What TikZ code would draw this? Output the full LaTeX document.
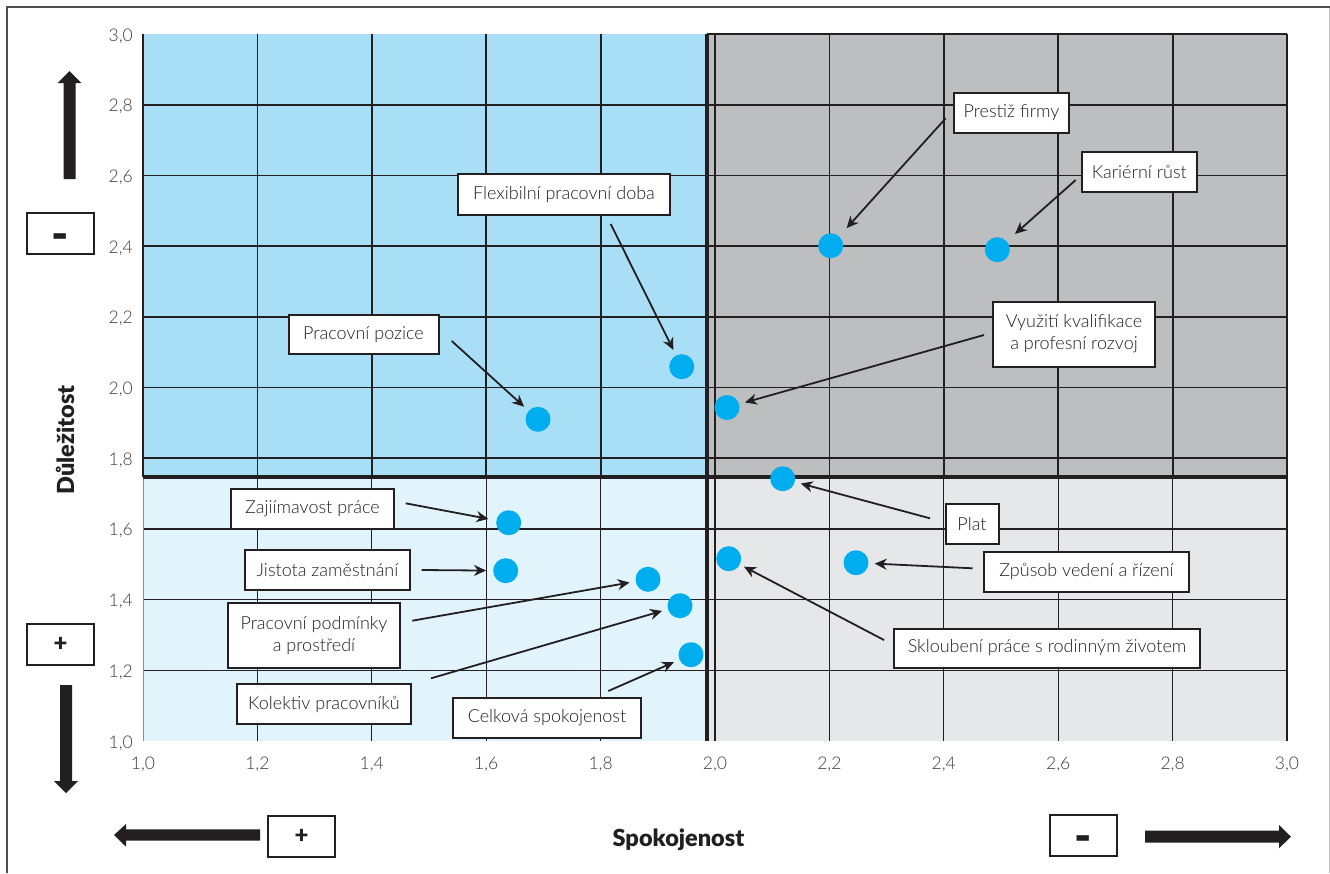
\documentclass[tikz,border=0pt]{standalone}
\usepackage{fontspec}
\setmainfont{Lato Light}[BoldFont={Lato Black}]
\usetikzlibrary{arrows.meta}
\definecolor{qblue}{HTML}{A8DFF7}
\definecolor{qgrey}{HTML}{BCBEC0}
\definecolor{qlblue}{HTML}{E1F3FB}
\definecolor{qlgrey}{HTML}{E6E7E8}
\definecolor{dotc}{HTML}{00AEEF}
\definecolor{ink}{HTML}{231F20}
\definecolor{tickc}{HTML}{3C3C3C}
\definecolor{framec}{HTML}{4D4D4D}
\tikzset{
  lbl/.style={draw=ink, line width=2pt, fill=white, inner sep=0pt, align=center,
    font=\fontsize{18}{22}\selectfont, text=ink},
  dot/.style={circle, fill=dotc, minimum size=25pt, inner sep=0pt},
  ptr/.style={draw=ink, line width=1.8pt, -{Stealth[length=12pt,width=11pt]}, shorten >=6pt},
  sgn/.style={draw=ink, line width=2pt, fill=white, minimum width=67pt, minimum height=41pt,
    inner sep=0pt, font=\bfseries\fontsize{24}{24}\selectfont, text=ink},
  tickl/.style={font=\fontsize{17.5}{17.5}\selectfont, text=tickc, inner sep=0pt},
  gridu/.style={draw=ink, line width=1.8pt},
  gridl/.style={draw=ink, line width=1.3pt},
  divl/.style={draw=ink, line width=3.5pt},
  axtitle/.style={font=\bfseries\fontsize{23.5}{23.5}\selectfont, text=ink, inner sep=0pt}
}
\newcommand{\minussign}{\raisebox{-19.4pt}[0pt][0pt]{\scalebox{1.25}[2.2]{–}}}
\begin{document}
\begin{tikzpicture}[x=1pt,y=-1pt]
\useasboundingbox (0,0) rectangle (1330,873);
\fill[white] (0,0) rectangle (1330,873);
% frame
\draw[framec, line width=1.5pt] (7,873) -- (7,7) -- (1330,7);
\draw[black!25, line width=1pt] (1329,8) -- (1329,873);
% quadrants
\fill[qblue] (143,34) rectangle (707,477);
\fill[qgrey] (707,34) rectangle (1287,477);
\fill[qlblue] (143,477) rectangle (707,741);
\fill[qlgrey] (707,477) rectangle (1287,741);
% grid
\foreach \i in {1,...,9} {
  \draw[gridu] ({143+114.4*\i},34) -- ({143+114.4*\i},477);
  \draw[gridl] ({143+114.4*\i},477) -- ({143+114.4*\i},741);
}
\foreach \j in {4,...,9} \draw[gridu] (143,{741-70.7*\j}) -- (1287,{741-70.7*\j});
\foreach \j in {1,2,3} \draw[gridl] (143,{741-70.7*\j}) -- (1287,{741-70.7*\j});
\draw[gridu] (707,34) -- (1287,34);
\draw[gridu] (1287,34) -- (1287,741);
\draw[gridu] (143,34) -- (143,477);
\draw[black!45, line width=1pt] (143,477) -- (143,741);
% dividers
\draw[divl] (707,34) -- (707,741);
\draw[divl] (143,477) -- (1287,477);
% tick labels
\foreach \j/\a/\b in {0/1/0,1/1/2,2/1/4,3/1/6,4/1/8,5/2/0,6/2/2,7/2/4,8/2/6,9/2/8,10/3/0} {
  \node[tickl, anchor=base east] (yt\j) at (133,{741-70.7*\j+7}) {\a,\b};
  \node[tickl, anchor=base] (xt\j) at ({143+114.4*\j},769) {\a,\b};
}
% axis titles
\node[axtitle, anchor=base] (xtitle) at (678.5,846) {Spokojenost};
\node[axtitle, rotate=90] (ytitle) at (65,440) {Důležitost};
% side arrows and signs
\fill[ink] (63.5,179) -- (63.5,83) -- (57.5,83) -- (69.5,71) -- (81.5,83) -- (75.5,83) -- (75.5,179) -- cycle;
\fill[ink] (60,685) -- (72,685) -- (72,781) -- (78,781) -- (66,793) -- (54,781) -- (60,781) -- cycle;
\fill[ink] (260,829.3) -- (126,829.3) -- (126,824) -- (114,835) -- (126,846.7) -- (126,840.7) -- (260,840.7) -- cycle;
\fill[ink] (1145,830.7) -- (1279,830.7) -- (1279,825) -- (1291,836.7) -- (1279,848.3) -- (1279,842.7) -- (1145,842.7) -- cycle;
\node[sgn] (mLeft) at (60.5,233.5) {\minussign};
\node[sgn] (pLeft) at (60.5,644.5) {+};
\node[sgn] (pBottom) at (301.5,836) {+};
\node[sgn] (mBottom) at (1083,835.5) {\minussign};
% dots
\node[dot] (dPre) at (830.7,245.7) {};
\node[dot] (dKar) at (997.3,249.7) {};
\node[dot] (dVyu) at (727,407.5) {};
\node[dot] (dFle) at (681.7,366.7) {};
\node[dot] (dPoz) at (538,419.3) {};
\node[dot] (dPla) at (782.7,478.7) {};
\node[dot] (dSkl) at (728.7,558.7) {};
\node[dot] (dZpu) at (856,562.7) {};
\node[dot] (dZaj) at (508.7,522.7) {};
\node[dot] (dJis) at (505.7,570.7) {};
\node[dot] (dPod) at (648,579.3) {};
\node[dot] (dKol) at (680,605.7) {};
\node[dot] (dCel) at (691,654.7) {};
% label boxes
\node[lbl, minimum width=115pt, minimum height=40pt] (bPre) at (1011.5,113) {Prestiž firmy};
\node[lbl, minimum width=115pt, minimum height=40pt] (bKar) at (1139.3,172) {Kariérní růst};
\node[lbl, minimum width=162pt, minimum height=65pt] (bVyu) at (1074,334) {Využití kvalifikace\\a profesní rozvoj};
\node[lbl, minimum width=212pt, minimum height=41pt] (bFle) at (564,194.5) {Flexibilní pracovní doba};
\node[lbl, minimum width=150pt, minimum height=39pt] (bPoz) at (363.5,334.7) {Pracovní pozice};
\node[lbl, minimum width=163pt, minimum height=40pt] (bZaj) at (312.5,509) {Zajiímavost práce};
\node[lbl, minimum width=165pt, minimum height=40pt] (bJis) at (327.5,570) {Jistota zaměstnání};
\node[lbl, minimum width=172pt, minimum height=65pt] (bPod) at (314,635.5) {Pracovní podmínky\\a prostředí};
\node[lbl, minimum width=174pt, minimum height=40pt] (bKol) at (324,704) {Kolektiv pracovníků};
\node[lbl, minimum width=188pt, minimum height=40pt] (bCel) at (547,718) {Celková spokojenost};
\node[lbl, minimum width=53pt, minimum height=40pt] (bPla) at (972,524) {Plat};
\node[lbl, minimum width=205pt, minimum height=40pt] (bZpu) at (1086.5,571.7) {Způsob vedení a řízení};
\node[lbl, minimum width=306pt, minimum height=39pt] (bSkl) at (1047,648) {Skloubení práce s rodinným životem};
% arrow start points
\coordinate (sPre) at (945.7,118.3);
\coordinate (sKar) at (1075.7,180);
\coordinate (sVyu) at (984,335);
\coordinate (sFle) at (610.7,224);
\coordinate (sPoz) at (451.7,341);
\coordinate (sZaj) at (405.7,503.3);
\coordinate (sJis) at (421.7,570);
\coordinate (sPod) at (412.3,620.7);
\coordinate (sKol) at (431,678.3);
\coordinate (sCel) at (608.3,691);
\coordinate (sPla) at (930,518.3);
\coordinate (sZpu) at (972.7,568.3);
\coordinate (sSkl) at (884,640);
% arrows
\draw[ptr, shorten >=11pt] (sPre) -- (dPre);
\draw[ptr, shorten >=11pt] (sKar) -- (dKar);
\draw[ptr] (sVyu) -- (dVyu);
\draw[ptr] (sFle) -- (dFle);
\draw[ptr] (sPoz) -- (dPoz);
\draw[ptr, shorten >=8pt] (sZaj) -- (dZaj);
\draw[ptr, shorten >=7pt] (sJis) -- (dJis);
\draw[ptr] (sPod) -- (dPod);
\draw[ptr] (sKol) -- (dKol);
\draw[ptr] (sCel) -- (dCel);
\draw[ptr] (sPla) -- (dPla);
\draw[ptr] (sZpu) -- (dZpu);
\draw[ptr, shorten >=4.5pt] (sSkl) -- (dSkl);
\end{tikzpicture}
\end{document}
